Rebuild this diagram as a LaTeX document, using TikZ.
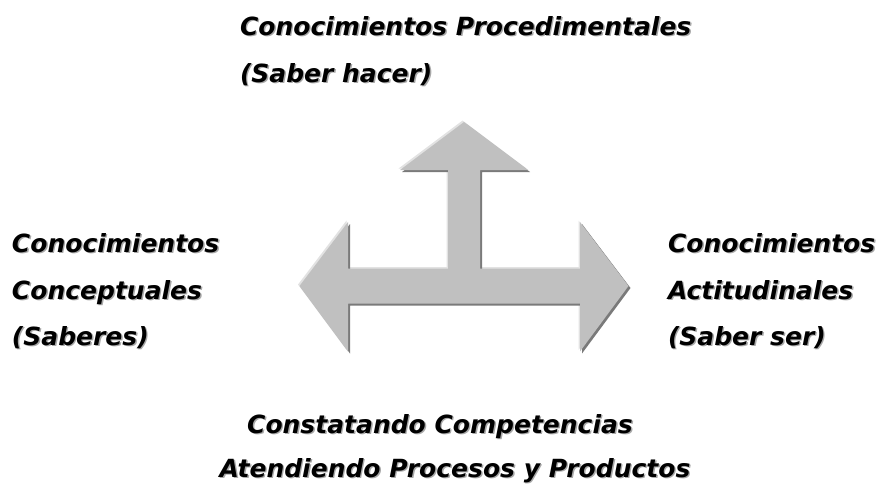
\documentclass[tikz,border=0pt]{standalone}
\usepackage{fontspec}
\setmainfont{DejaVu Sans}
\definecolor{arrowfill}{HTML}{C0C0C0}
\definecolor{arrowshade}{HTML}{7A7A7A}
\definecolor{arrowlight}{HTML}{E2E2E2}
\definecolor{txtshade}{HTML}{A8A8A8}
\newcommand\shtxt[1]{\makebox[0pt][l]{\hspace{1.4pt}\raisebox{-1.4pt}{\textcolor{txtshade}{#1}}}#1}
\tikzset{
  lbl/.style={inner sep=0pt, outer sep=0pt, font=\fontsize{25}{25}\selectfont\bfseries\itshape},
}
\begin{document}
\begin{tikzpicture}[x=1pt,y=-1pt]
\useasboundingbox (0,0) rectangle (882,483);
\def\arrowpath{(464,122) -- (528,170) -- (480,170) -- (480,268.5) -- (580,268.5) -- (580,222) -- (628.5,286) -- (580,351.5) -- (580,303.5) -- (348,303.5) -- (348,351.5) -- (299.5,286) -- (348,222) -- (348,268.5) -- (448,268.5) -- (448,170) -- (400,170) -- cycle}
\begin{scope}[shift={(-1.5,-1.5)}]
  \fill[arrowlight] \arrowpath;
\end{scope}
\begin{scope}[shift={(2,2)}]
  \fill[arrowshade] \arrowpath;
\end{scope}
\fill[arrowfill] \arrowpath;

\node[lbl, anchor=base west] (t1) at (240,35) {\shtxt{Conocimientos Procedimentales}};
\node[lbl, anchor=base west] (t2) at (240,82) {\shtxt{(Saber hacer)}};

\node[lbl, anchor=base west] (l1) at (12,252) {\shtxt{Conocimientos}};
\node[lbl, anchor=base west] (l2) at (12,299) {\shtxt{Conceptuales}};
\node[lbl, anchor=base west] (l3) at (12,345) {\shtxt{(Saberes)}};

\node[lbl, anchor=base west] (r1) at (668,252) {\shtxt{Conocimientos}};
\node[lbl, anchor=base west] (r2) at (668,299) {\shtxt{Actitudinales}};
\node[lbl, anchor=base west] (r3) at (668,345) {\shtxt{(Saber ser)}};

\node[lbl, anchor=base] (b1) at (440,433) {\shtxt{Constatando Competencias}};
\node[lbl, anchor=base] (b2) at (455,477) {\shtxt{Atendiendo Procesos y Productos}};
\end{tikzpicture}
\end{document}
